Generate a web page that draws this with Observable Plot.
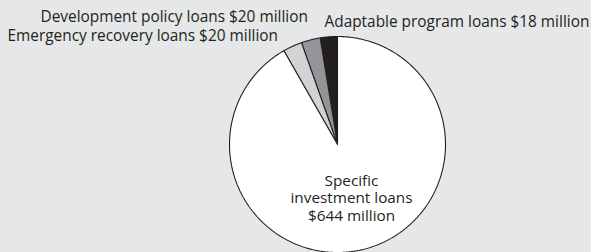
<!DOCTYPE html>
<html><head><meta charset="utf-8">
<script src="https://cdn.jsdelivr.net/npm/d3@7"></script>
<script src="https://cdn.jsdelivr.net/npm/@observablehq/plot@0.6"></script>
<style>
html,body{margin:0;padding:0;background:#e6e7e8;}
#chart svg{display:block;}
</style>
</head><body><div id="chart"></div>
<script>
// Data
const categories = ["Adaptable program loans", "Development policy loans", "Emergency recovery loans", "Specific investment loans"];
const values = [18, 20, 20, 644];
const valueLabels = ["$18 million", "$20 million", "$20 million", "$644 million"];
const sliceColors = ["#231f20", "#939598", "#d1d3d4", "#ffffff"];

// Layout (pixels)
const W = 591, H = 252;
const cx = 337, cy = 144, r = 108;
const outerLabels = [
  {x: 324, y: 26.5, text: `${categories[0]} ${valueLabels[0]}`},
  {x: 40, y: 21, text: `${categories[1]} ${valueLabels[1]}`},
  {x: 7, y: 40.5, text: `${categories[2]} ${valueLabels[2]}`}
];
const innerLabels = [
  {x: 351, y: 220, text: `Specific\ninvestment loans\n${valueLabels[3]}`}
];

// pie angles: start at 12 o'clock, going counterclockwise
const arcs = d3.pie().sort(null).startAngle(0).endAngle(-2 * Math.PI)(values);
const pts = [];
arcs.forEach((a, i) => {
  const cat = categories[i];
  pts.push({cat, x: cx, y: cy});
  const n = Math.max(2, Math.ceil(Math.abs(a.endAngle - a.startAngle) / (Math.PI / 360)));
  for (let k = 0; k <= n; k++) {
    const t = a.startAngle + (a.endAngle - a.startAngle) * k / n;
    pts.push({cat, x: cx + r * Math.sin(t), y: cy - r * Math.cos(t)});
  }
  pts.push({cat, x: cx, y: cy});
});

const chart = Plot.plot({
  width: W, height: H,
  margin: 0,
  style: {background: "#e6e7e8", fontFamily: "'Open Sans', sans-serif"},
  x: {domain: [0, W], range: [0, W], axis: null},
  y: {domain: [0, H], range: [0, H], axis: null},
  color: {domain: categories, range: sliceColors},
  marks: [
    Plot.line(pts, {x: "x", y: "y", z: "cat", fill: "cat", stroke: "#231f20", strokeWidth: 1.1, strokeLinejoin: "miter", curve: "linear"}),
    Plot.text(outerLabels, {x: "x", y: "y", text: "text", textAnchor: "start", lineAnchor: "bottom", fontSize: 15.4, fill: "#231f20"}),
    Plot.text(innerLabels, {x: "x", y: "y", text: "text", textAnchor: "middle", lineAnchor: "bottom", lineHeight: 1.14, fontSize: 15.3, fill: "#231f20"})
  ]
});
document.getElementById("chart").append(chart);
</script>
</body></html>
